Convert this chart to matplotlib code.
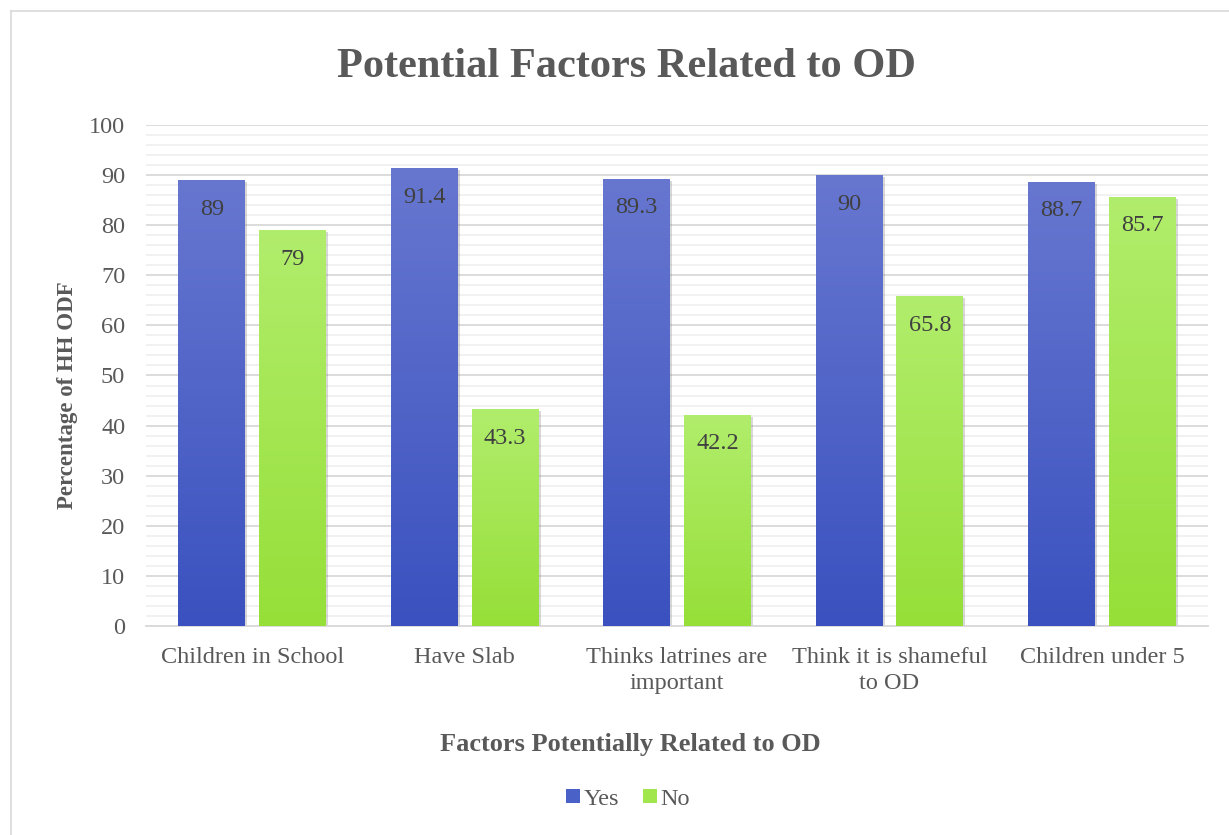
import numpy as np
import matplotlib
matplotlib.use("Agg")
import matplotlib.pyplot as plt
from matplotlib.colors import LinearSegmentedColormap
from matplotlib.patches import Patch
import matplotlib.patheffects as pe
from matplotlib.lines import Line2D

categories = ["Children in School", "Have Slab", "Thinks latrines are\nimportant",
              "Think it is shameful\nto OD", "Children under 5"]
yes_values = [89, 91.4, 89.3, 90, 88.7]
no_values = [79, 43.3, 42.2, 65.8, 85.7]
yes_labels = ["89", "91.4", "89.3", "90", "88.7"]
no_labels = ["79", "43.3", "42.2", "65.8", "85.7"]

plt.rcParams["font.family"] = ["Liberation Serif", "DejaVu Serif"]
TXT = "#595959"

fig = plt.figure(figsize=(12.29, 8.35), dpi=100)
ax = fig.add_axes([0.1188, 0.2503, 0.8642, 0.6000])

# chart frame
fig.add_artist(Line2D([0.009, 0.009], [0.0, 0.987], transform=fig.transFigure,
                      color="#d9d9d9", lw=1.2))
fig.add_artist(Line2D([0.009, 1.0], [0.987, 0.987], transform=fig.transFigure,
                      color="#d9d9d9", lw=1.2))

x = np.arange(len(categories))
w = 0.315
off = 0.19

blue_cmap = LinearSegmentedColormap.from_list("b", ["#3a51bf", "#6777d0"])
green_cmap = LinearSegmentedColormap.from_list("g", ["#96df38", "#b1ed6c"])
grad = np.linspace(0, 1, 256).reshape(-1, 1)

shadow = [pe.SimplePatchShadow(offset=(1.5, -1.5), shadow_rgbFace="#7f7f7f", alpha=0.3),
          pe.Normal()]


def gradient_bars(xs, vals, cmap):
    bars = ax.bar(xs, vals, width=w, color="none", zorder=3)
    for b in bars:
        sh = plt.Rectangle(b.get_xy(), b.get_width(), b.get_height(),
                           facecolor="white", edgecolor="none", zorder=2.5)
        sh.set_path_effects(shadow)
        ax.add_patch(sh)
        x0, y0 = b.get_xy()
        im = ax.imshow(grad, cmap=cmap, aspect="auto", origin="lower",
                       extent=[x0, x0 + b.get_width(), 0, b.get_height()],
                       zorder=3, interpolation="bilinear")
        im.set_clip_path(b)
    return bars


gradient_bars(x - off, yes_values, blue_cmap)
gradient_bars(x + off, no_values, green_cmap)

for xi, v, s in zip(x - off, yes_values, yes_labels):
    ax.text(xi, v - 5.8, s, ha="center", va="center", fontsize=17.5, color="#404040", zorder=5)
for xi, v, s in zip(x + off, no_values, no_labels):
    ax.text(xi, v - 5.8, s, ha="center", va="center", fontsize=17.5, color="#404040", zorder=5)

ax.set_xlim(-0.5, len(categories) - 0.5)
ax.set_ylim(0, 100)
ax.set_yticks(np.arange(0, 101, 10))
ax.set_yticks(np.arange(0, 101, 2), minor=True)
ax.grid(axis="y", which="major", color="#d9d9d9", lw=1.3, zorder=0)
ax.grid(axis="y", which="minor", color="#f0f0f0", lw=1.3, zorder=0)
ax.set_axisbelow(True)
for s in ["top", "right", "left"]:
    ax.spines[s].set_visible(False)
ax.spines["bottom"].set_color("#d9d9d9")
ax.spines["bottom"].set_linewidth(1.3)
ax.tick_params(axis="both", which="both", length=0, labelsize=17.5, labelcolor=TXT)
ax.tick_params(axis="y", pad=15)
ax.tick_params(axis="x", pad=15)
ax.set_xticks(x)
ax.set_xticklabels(categories, linespacing=1.3)
ax.set_xlim(-0.5, len(categories) - 0.5)

ax.set_ylabel("Percentage of HH ODF", fontsize=16.5, fontweight="bold", color=TXT)
ax.yaxis.set_label_coords(-0.064, 0.461)
fig.text(0.513, 0.108, "Factors Potentially Related to OD", ha="center", va="center",
         fontsize=19, fontweight="bold", color=TXT)
fig.text(0.510, 0.920, "Potential Factors Related to OD", ha="center", va="center",
         fontsize=30.5, fontweight="bold", color=TXT)

handles = [Patch(facecolor="#4a62c8"), Patch(facecolor="#a2e64e")]
fig.legend(handles, ["Yes", "No"], loc="center", bbox_to_anchor=(0.511, 0.043), ncol=2,
           frameon=False, fontsize=17.5, labelcolor=TXT, handlelength=0.55, handleheight=0.55,
           handletextpad=0.15, columnspacing=1.0)

fig.savefig("out.png", dpi=100)
